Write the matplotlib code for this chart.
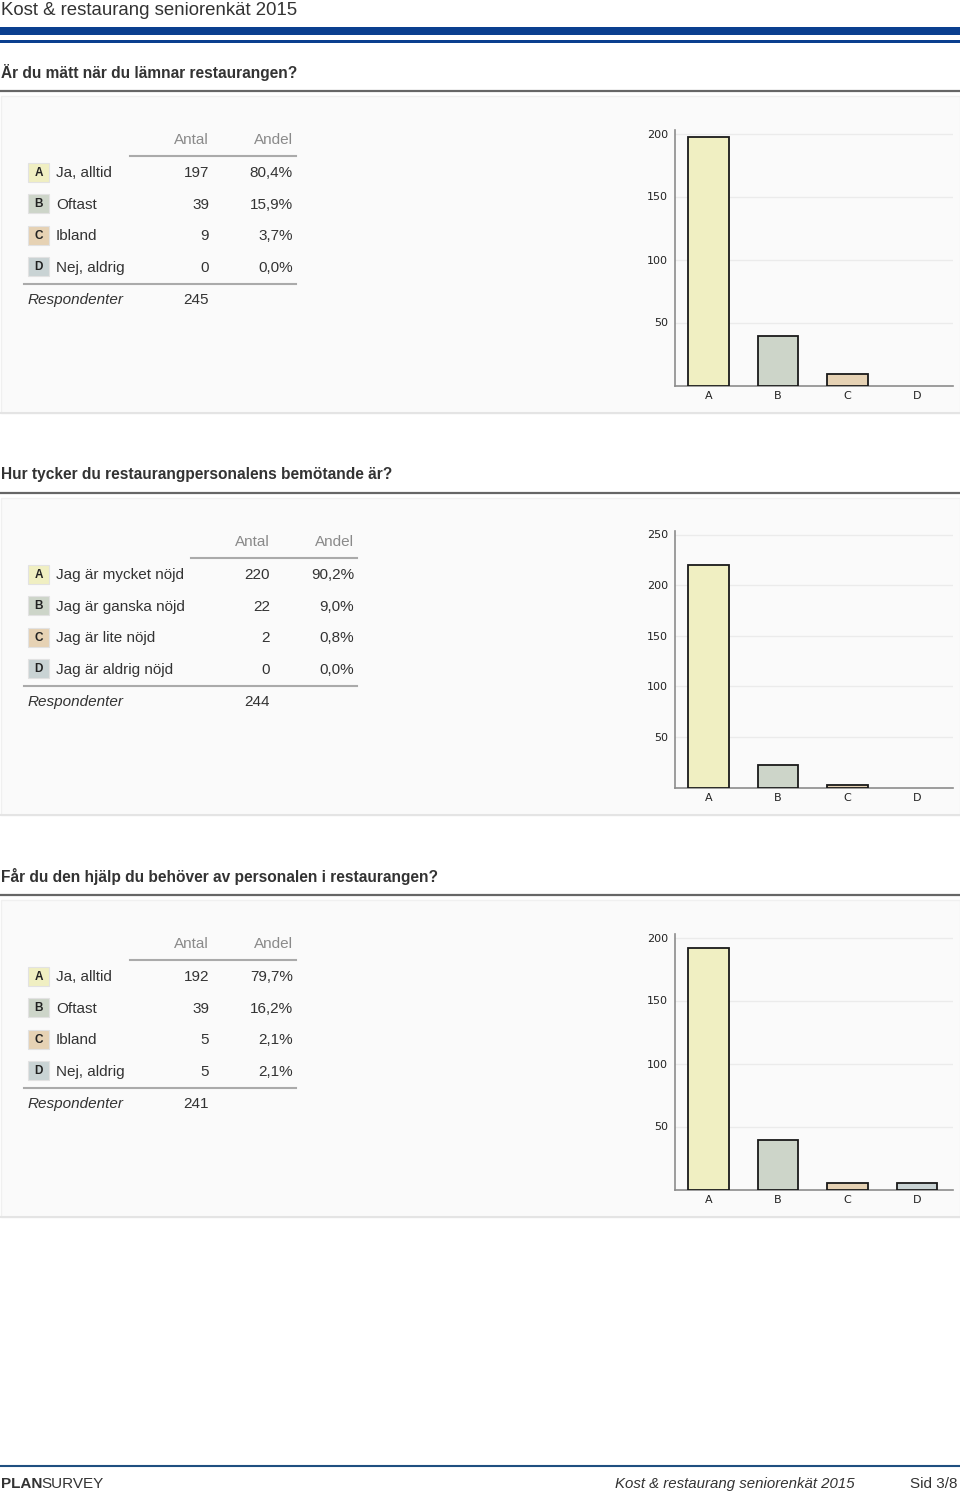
import numpy as np
import matplotlib.pyplot as plt
from matplotlib.patches import Rectangle

plt.rcParams['font.family'] = ['Liberation Sans', 'DejaVu Sans']

# data
page_title = 'Kost & restaurang seniorenkät 2015'
letters = ['A', 'B', 'C', 'D']
colors = ['#f0efc2', '#cdd5c9', '#e6d2b4', '#c9d3d4']

q1_title = 'Är du mätt när du lämnar restaurangen?'
q1_labels = ['Ja, alltid', 'Oftast', 'Ibland', 'Nej, aldrig']
q1_counts = [197, 39, 9, 0]
q1_share = ['80,4%', '15,9%', '3,7%', '0,0%']
q1_total = 245

q2_title = 'Hur tycker du restaurangpersonalens bemötande är?'
q2_labels = ['Jag är mycket nöjd', 'Jag är ganska nöjd', 'Jag är lite nöjd', 'Jag är aldrig nöjd']
q2_counts = [220, 22, 2, 0]
q2_share = ['90,2%', '9,0%', '0,8%', '0,0%']
q2_total = 244

q3_title = 'Får du den hjälp du behöver av personalen i restaurangen?'
q3_labels = ['Ja, alltid', 'Oftast', 'Ibland', 'Nej, aldrig']
q3_counts = [192, 39, 5, 5]
q3_share = ['79,7%', '16,2%', '2,1%', '2,1%']
q3_total = 241

W, H = 960, 1493
fig = plt.figure(figsize=(W / 100, H / 100), dpi=100)
bg = fig.add_axes([0, 0, 1, 1])
bg.set_xlim(0, W)
bg.set_ylim(H, 0)
bg.axis('off')

txt = '#333333'
fs = 11
bg.text(1, 10.5, page_title, fontsize=13.4, color=txt, va='center')
bg.add_patch(Rectangle((0, 27), W, 8, color='#0b3f8f', lw=0))
bg.add_patch(Rectangle((0, 40), W, 3, color='#0b3f8f', lw=0))

sections = [
    # title, labels, counts, share, total, y offset, col1, col2, ymax, ticks
    (q1_title, q1_labels, q1_counts, q1_share, q1_total, 0, 209, 293, 203, [50, 100, 150, 200]),
    (q2_title, q2_labels, q2_counts, q2_share, q2_total, 402, 270, 354, 253, [50, 100, 150, 200, 250]),
    (q3_title, q3_labels, q3_counts, q3_share, q3_total, 804, 209, 293, 203, [50, 100, 150, 200]),
]
px_per_unit = [1.26, 1.012, 1.26]

for i, (title, labels, counts, share, total, dy, c1, c2, ymax, ticks) in enumerate(sections):
    bg.text(1, 72.5 + dy, title, fontsize=11.2, fontweight='bold', color=txt, va='center')
    bg.plot([0, W], [90.5 + dy, 90.5 + dy], color='#666666', lw=1.6)
    # panel
    bg.add_patch(Rectangle((0.5, 96 + dy), W - 1, 317, facecolor='#fafafa', edgecolor='#f0f0f0', lw=1))
    bg.plot([0, W], [413 + dy, 413 + dy], color='#e4e4e4', lw=1.5)

    # table
    bg.text(c1, 140 + dy, 'Antal', fontsize=fs, color='#8a8a8a', ha='right', va='center')
    bg.text(c2, 140 + dy, 'Andel', fontsize=fs, color='#8a8a8a', ha='right', va='center')
    bg.plot([c1 - 79, c2 + 3], [155.5 + dy, 155.5 + dy], color='#aaaaaa', lw=1.5)
    for j in range(4):
        y = 172 + dy + j * 31.6
        bg.add_patch(Rectangle((28, y - 9.5), 21, 19, facecolor=colors[j], edgecolor='#e2e2e2', lw=0.8))
        bg.text(38.5, y + 0.5, letters[j], fontsize=8.5, fontweight='bold', color='#222222', ha='center', va='center')
        bg.text(56, y + 1, labels[j], fontsize=fs, color=txt, va='center')
        bg.text(c1, y + 1, str(counts[j]), fontsize=fs, color=txt, ha='right', va='center')
        bg.text(c2, y + 1, share[j], fontsize=fs, color=txt, ha='right', va='center')
    bg.plot([24, c2 + 3], [283.5 + dy, 283.5 + dy], color='#aaaaaa', lw=1.5)
    bg.text(28, 300 + dy, 'Respondenter', fontsize=fs, style='italic', color=txt, va='center')
    bg.text(c1, 300 + dy, str(total), fontsize=fs, color=txt, ha='right', va='center')

    # bar chart
    base = 385.5 + dy
    top = base - ymax * px_per_unit[i]
    ax = fig.add_axes([675 / W, 1 - base / H, (953 - 675) / W, (base - top) / H])
    ax.set_facecolor('#fafafa')
    x = np.arange(4)
    edges = ['#1a1a1a' if c > 0 else 'none' for c in counts]
    ax.bar(x, counts, width=0.58, color=colors, edgecolor=edges, linewidth=1.3, zorder=3)
    ax.set_xlim(-0.48, 3.52)
    ax.set_ylim(0, ymax)
    ax.set_yticks(ticks)
    ax.set_xticks(x)
    ax.set_xticklabels(letters, family='DejaVu Sans', fontsize=8)
    ax.set_yticklabels([str(t) for t in ticks], family='DejaVu Sans', fontsize=8)
    ax.grid(axis='y', color='#ebebeb', lw=1, zorder=0)
    for s in ['top', 'right']:
        ax.spines[s].set_visible(False)
    for s in ['left', 'bottom']:
        ax.spines[s].set_color('#8c8c8c')
        ax.spines[s].set_linewidth(1.2)
    ax.tick_params(axis='y', length=0, labelcolor='#222222', pad=5)
    ax.tick_params(axis='x', length=0, labelcolor='#222222', pad=4)

# footer
bg.plot([0, W], [1466, 1466], color='#1f4f80', lw=1.5)
bg.text(1, 1484, 'PLAN', fontsize=11, fontweight='bold', color=txt, va='center')
bg.text(41, 1484, 'SURVEY', fontsize=11, color=txt, va='center')
bg.text(855, 1484, page_title, fontsize=10.8, style='italic', color=txt, ha='right', va='center')
bg.text(958, 1484, 'Sid 3/8', fontsize=11, color=txt, ha='right', va='center')

fig.savefig('out.png', dpi=100, facecolor='white')
